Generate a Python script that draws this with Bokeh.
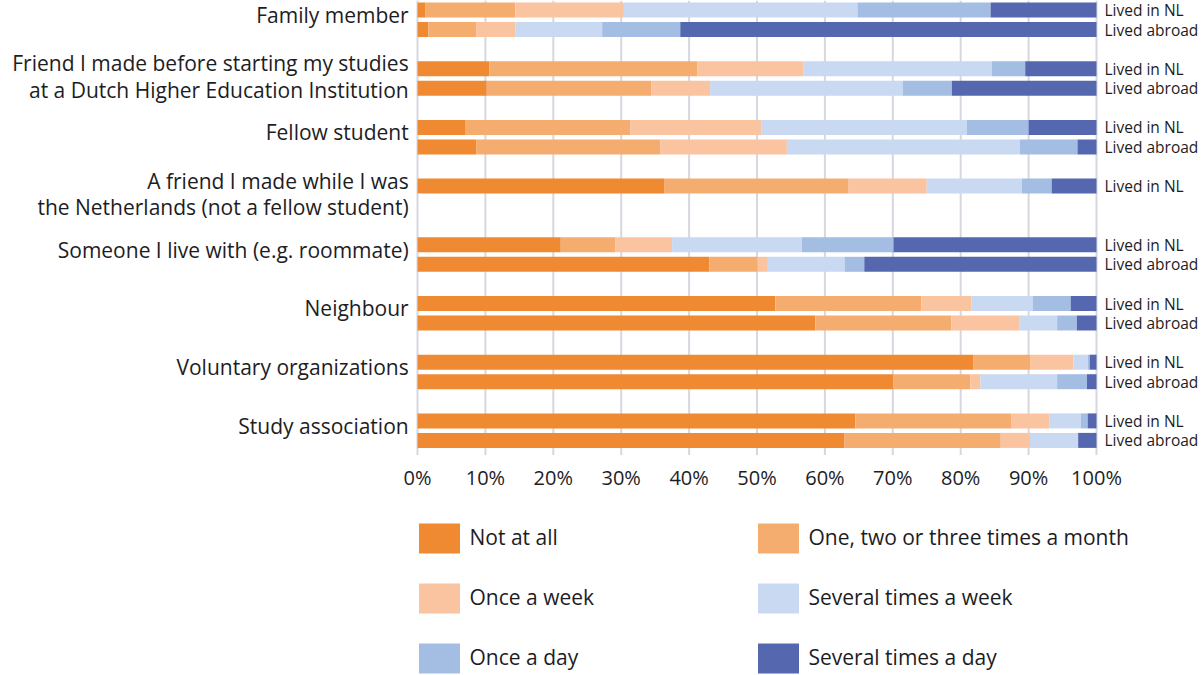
from bokeh.plotting import figure
from bokeh.models import ColumnDataSource, Range1d
from bokeh.core.properties import value
from bokeh.embed import file_html
from bokeh.resources import INLINE

# ---- data -------------------------------------------------------------
categories = [
    "Family member",
    "Friend I made before starting my studies\nat a Dutch Higher Education Institution",
    "Fellow student",
    "A friend I made while I was\nthe Netherlands (not a fellow student)",
    "Someone I live with (e.g. roommate)",
    "Neighbour",
    "Voluntary organizations",
    "Study association",
]

# one entry per bar: which category it belongs to and the respondents' residence
bar_category = [0, 0, 1, 1, 2, 2, 3, 4, 4, 5, 5, 6, 6, 7, 7]
bar_residence = ["Lived in NL", "Lived abroad", "Lived in NL", "Lived abroad",
                 "Lived in NL", "Lived abroad", "Lived in NL",
                 "Lived in NL", "Lived abroad", "Lived in NL", "Lived abroad",
                 "Lived in NL", "Lived abroad", "Lived in NL", "Lived abroad"]

frequencies = ["Not at all", "One, two or three times a month", "Once a week",
               "Several times a week", "Once a day", "Several times a day"]

not_at_all     = [1.2, 1.6, 10.6, 10.2, 7.1, 8.7, 36.4, 21.1, 43.0, 52.7, 58.6, 81.9, 70.1, 64.5, 62.9]
few_per_month  = [13.2, 7.1, 30.6, 24.2, 24.2, 27.1, 27.1, 8.0, 7.1, 21.5, 20.0, 8.4, 11.3, 23.0, 23.0]
once_week      = [16.0, 5.7, 15.6, 8.7, 19.4, 18.6, 11.5, 8.4, 1.5, 7.4, 10.0, 6.3, 1.5, 5.6, 4.3]
several_week   = [34.4, 12.8, 27.8, 28.4, 30.2, 34.3, 14.0, 19.1, 11.3, 9.0, 5.6, 2.1, 11.3, 4.6, 7.1]
once_day       = [19.6, 11.5, 4.9, 7.2, 9.1, 8.5, 4.4, 13.5, 2.9, 5.6, 2.9, 0.3, 4.4, 1.0, 0.0]
several_day    = [15.6, 61.3, 10.5, 21.3, 10.0, 2.8, 6.6, 29.9, 34.2, 3.8, 2.9, 1.0, 1.4, 1.3, 2.7]

x_ticks = [0, 10, 20, 30, 40, 50, 60, 70, 80, 90, 100]
tick_labels = [f"{t}%" for t in x_ticks]

colors = ["#F08A32", "#F5AD6F", "#FAC4A0", "#C8D9F1", "#A4BDE2", "#5567AF"]

# ---- layout -------------------------------------------------------------
W, H = 1204, 675
PX_PER_PCT = 6.79          # horizontal pixels per percentage point
ZERO_PX = 417              # pixel column of the 0% line
PITCH = 58.7               # vertical distance between category groups
FIRST = 9.5                # centre of the first bar
GAP = 19.5                 # distance between the two bars of a group
BAR_H = 15
FONT = "Open Sans"
TXT = "#1d1d1f"

x_start = -ZERO_PX / PX_PER_PCT
x_end = (W - ZERO_PX) / PX_PER_PCT

p = figure(width=W, height=H, output_backend="svg", toolbar_location=None,
           x_range=Range1d(x_start, x_end), y_range=Range1d(H, 0),
           min_border=0, outline_line_color=None)
p.axis.visible = False
p.grid.visible = False
p.background_fill_color = "white"
p.border_fill_color = "white"

bar_y = []
for c, r in zip(bar_category, bar_residence):
    base = FIRST + c * PITCH
    bar_y.append(base if r == "Lived in NL" else base + GAP)

keys = ["s0", "s1", "s2", "s3", "s4", "s5"]
src = ColumnDataSource(dict(y=bar_y, s0=not_at_all, s1=few_per_month, s2=once_week,
                            s3=several_week, s4=once_day, s5=several_day,
                            res=bar_residence))

# vertical gridlines
grid_bottom = FIRST + 7 * PITCH + GAP + BAR_H / 2 + 7
p.segment(x0=x_ticks, x1=x_ticks, y0=[0] * len(x_ticks), y1=[grid_bottom] * len(x_ticks),
          line_color="#D7D7E0", line_width=2)

p.hbar_stack(keys, y="y", height=BAR_H, color=colors, source=src, line_width=0)

# category labels (two-line labels sit a little lower)
cat_y = [FIRST + i * PITCH + GAP / 2 - (2 if "\n" in name else 5)
         for i, name in enumerate(categories)]
p.text(x=[-1.3] * len(categories), y=cat_y, text=categories,
       text_align="right", text_baseline="middle", text_font=value(FONT),
       text_font_size="21px", text_color=TXT, text_line_height=0.95)

# residence labels on the right
p.text(x=[100 + 8 / PX_PER_PCT] * len(bar_y), y=bar_y, text=bar_residence,
       text_align="left", text_baseline="middle", text_font=value(FONT),
       text_font_size="15.5px", text_color=TXT)

# percentage tick labels
p.text(x=x_ticks, y=[477] * len(x_ticks), text=tick_labels,
       text_align="center", text_baseline="middle", text_font=value(FONT),
       text_font_size="20px", text_color=TXT)

# legend: two columns, three rows
leg_col_x = [1 / PX_PER_PCT, 340 / PX_PER_PCT]
leg_rows = [538, 598, 658]
lx, ly, tx = [], [], []
for i, f in enumerate(frequencies):
    col, row = i % 2, i // 2
    lx.append(leg_col_x[col] + 21 / PX_PER_PCT)
    ly.append(leg_rows[row])
    tx.append(leg_col_x[col] + 51 / PX_PER_PCT)
p.rect(x=lx, y=ly, width=41 / PX_PER_PCT, height=30, color=colors, line_width=0)
p.text(x=tx, y=[v - 2 for v in ly], text=frequencies, text_align="left", text_baseline="middle",
       text_font=value(FONT), text_font_size="21px", text_color=TXT)

open("out.html", "w").write(file_html(p, INLINE))
